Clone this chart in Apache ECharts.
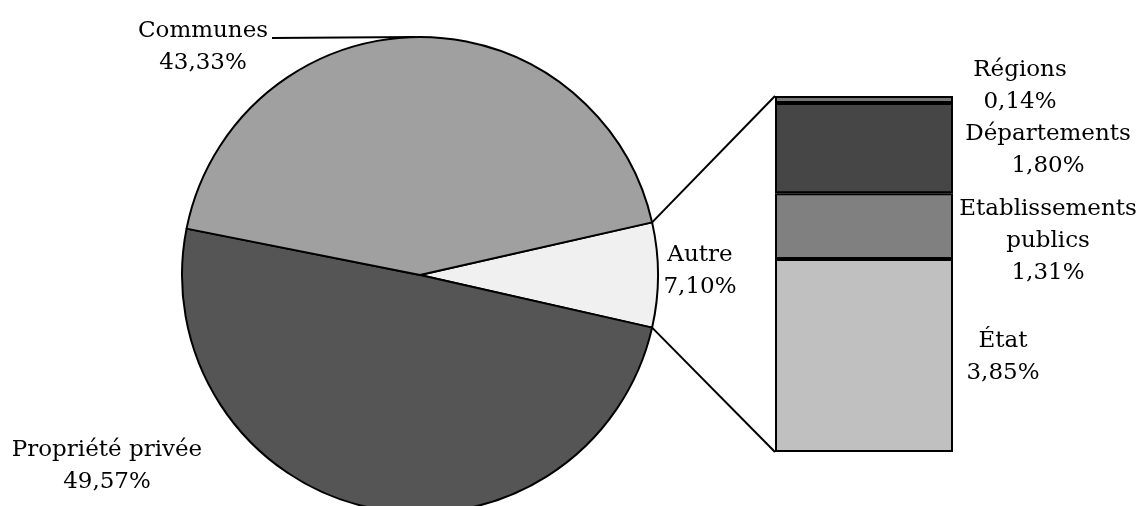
<!DOCTYPE html>
<html><head><meta charset="utf-8">
<script src="https://cdn.jsdelivr.net/npm/echarts@6/dist/echarts.min.js"></script>
<style>html,body{margin:0;padding:0;background:#fff}#c{width:1139px;height:506px}</style>
</head><body><div id="c"></div>
<script>
// Pie data (percent)
const pieNames = ['Autre', 'Propriété privée', 'Communes'];
const pieValues = [7.10, 49.57, 43.33];
const pieColors = ['#f0f0f0', '#555555', '#a0a0a0'];
// Breakdown of "Autre" (bottom to top)
const barNames = ['État', 'Etablissements\npublics', 'Départements', 'Régions'];
const barValues = [3.85, 1.31, 1.80, 0.14];
const barColors = ['#c0c0c0', '#808080', '#464646', '#777777'];

const FONT = 'DejaVu Serif';
const fmt = v => v.toFixed(2).replace('.', ',') + '%';
const total = pieValues.reduce((a, b) => a + b, 0);
const autreTotal = barValues.reduce((a, b) => a + b, 0);
const startAngle = pieValues[0] / total * 360 / 2;
const CX = 420, CY = 275, R = 238;

// label anchor positions (center of text block)
const pieLabelPos = [
  {x: 700, y: 271},
  {x: 107, y: 466},
  {x: 203, y: 47}
];
const barLabelPos = [
  {x: 1003, y: 357},
  {x: 1048, y: 241},
  {x: 1048, y: 150},
  {x: 1020, y: 86}
];

const chart = echarts.init(document.getElementById('c'), null, {renderer: 'canvas'});
const textStyle = {fontFamily: FONT, fontSize: 23, color: '#000', lineHeight: 32};

const series = [{
  type: 'pie',
  center: [CX, CY],
  radius: R,
  startAngle: startAngle,
  clockwise: true,
  animation: false,
  silent: true,
  data: pieNames.map((n, i) => ({name: n, value: pieValues[i], itemStyle: {color: pieColors[i]}})),
  itemStyle: {borderColor: '#000', borderWidth: 2},
  label: Object.assign({show: true, formatter: p => p.name + '\n' + fmt(p.value), align: 'center'}, textStyle),
  labelLine: {show: false},
  labelLayout: p => Object.assign({align: 'center', verticalAlign: 'middle'}, pieLabelPos[p.dataIndex])
}];
barNames.forEach((n, i) => {
  series.push({
    type: 'bar',
    name: n,
    stack: 'autre',
    barWidth: '100%',
    animation: false,
    silent: true,
    data: [barValues[i]],
    itemStyle: {color: barColors[i], borderColor: '#000', borderWidth: 2},
    label: Object.assign({show: true, position: 'right', align: 'center', formatter: () => n + '\n' + fmt(barValues[i])}, textStyle),
    labelLayout: () => Object.assign({align: 'center', verticalAlign: 'middle'}, barLabelPos[i])
  });
});

chart.setOption({
  backgroundColor: '#fff',
  animation: false,
  grid: {left: 775, width: 178, top: 96, bottom: 54},
  xAxis: {type: 'category', data: ['Autre'], show: false},
  yAxis: {type: 'value', min: 0, max: autreTotal, show: false},
  series: series
});

// connector lines computed from pie geometry and bar axis
const a = startAngle * Math.PI / 180;
const pTop = [CX + R * Math.cos(a), CY - R * Math.sin(a)];
const pBot = [CX + R * Math.cos(a), CY + R * Math.sin(a)];
const barTop = chart.convertToPixel({gridIndex: 0}, ['Autre', autreTotal]);
const barBot = chart.convertToPixel({gridIndex: 0}, ['Autre', 0]);
const gridLeft = 775;
chart.setOption({
  graphic: [
    {type: 'line', shape: {x1: pTop[0], y1: pTop[1], x2: gridLeft, y2: barTop[1]}, style: {stroke: '#000', lineWidth: 2}, z: 10},
    {type: 'line', shape: {x1: pBot[0], y1: pBot[1], x2: gridLeft, y2: barBot[1]}, style: {stroke: '#000', lineWidth: 2}, z: 10},
    {type: 'line', shape: {x1: 272, y1: CY - R + 1, x2: CX - 5, y2: CY - R}, style: {stroke: '#000', lineWidth: 2}, z: 10}
  ]
});
</script></body></html>
